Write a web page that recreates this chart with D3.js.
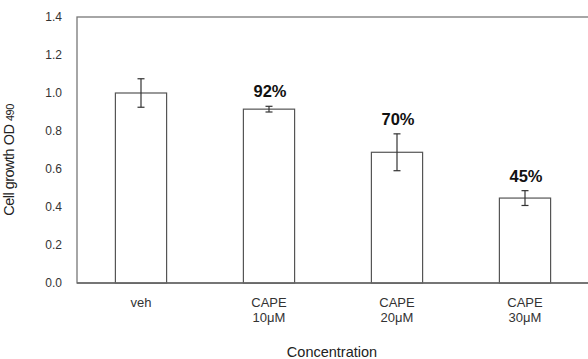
<!DOCTYPE html>
<html>
<head>
<meta charset="utf-8">
<script src="https://cdn.jsdelivr.net/npm/d3@7"></script>
<style>
  html, body { margin: 0; padding: 0; background: #fff; }
  svg { display: block; font-family: "Liberation Sans", Arial, sans-serif; }
</style>
</head>
<body>
<svg id="chart" width="588" height="359"></svg>
<script>
// Cell growth (OD 490) after CAPE treatment
const categories = ["veh", "CAPE\n10μM", "CAPE\n20μM", "CAPE\n30μM"];
const means = [1.0, 0.915, 0.688, 0.447];
const errors = [0.075, 0.015, 0.097, 0.039];
const percentLabels = ["", "92%", "70%", "45%"];
const yTicks = [0, 0.2, 0.4, 0.6, 0.8, 1.0, 1.2, 1.4];

const svg = d3.select("#chart");
const margin = { left: 77, top: 17, right: -1, bottom: 76 };
const W = 588, H = 359;
const plotRight = W - margin.right;
const plotBottom = H - margin.bottom;
const font = "'Liberation Sans', Arial, sans-serif";

const x = d3.scaleBand()
  .domain(categories)
  .range([margin.left, plotRight])
  .paddingInner(0.6)
  .paddingOuter(0.3);

const y = d3.scaleLinear().domain([0, 1.4]).range([plotBottom, margin.top]);

const textColor = "#333";

// plot frame
svg.append("rect")
  .attr("x", margin.left).attr("y", margin.top)
  .attr("width", plotRight - margin.left)
  .attr("height", plotBottom - margin.top)
  .attr("fill", "none").attr("stroke", "#777").attr("stroke-width", 1.3);

// y axis labels (no tick marks)
const yAxis = d3.axisLeft(y).tickValues(yTicks).tickFormat(d3.format(".1f")).tickSize(0).tickPadding(15);
const gy = svg.append("g").attr("transform", `translate(${margin.left},0)`).call(yAxis);
gy.select(".domain").remove();
gy.selectAll("text").attr("fill", textColor).style("font-size", "12px").style("font-family", font);

// bars
const bw = x.bandwidth();
svg.selectAll("rect.bar").data(categories).enter().append("rect")
  .attr("class", "bar")
  .attr("x", d => x(d))
  .attr("y", (d, i) => y(means[i]))
  .attr("width", bw)
  .attr("height", (d, i) => plotBottom - y(means[i]))
  .attr("fill", "#fff").attr("stroke", "#555").attr("stroke-width", 1.2);

// error bars
const eg = svg.append("g").attr("stroke", "#333").attr("stroke-width", 1.2);
categories.forEach((c, i) => {
  const cx = x(c) + bw / 2;
  const hi = y(means[i] + errors[i]), lo = y(means[i] - errors[i]);
  eg.append("line").attr("x1", cx).attr("x2", cx).attr("y1", hi).attr("y2", lo);
  eg.append("line").attr("x1", cx - 3.5).attr("x2", cx + 3.5).attr("y1", hi).attr("y2", hi);
  eg.append("line").attr("x1", cx - 3.5).attr("x2", cx + 3.5).attr("y1", lo).attr("y2", lo);
});

// baseline redrawn on top of the bars
svg.append("line")
  .attr("x1", margin.left).attr("x2", plotRight)
  .attr("y1", plotBottom).attr("y2", plotBottom)
  .attr("stroke", "#666").attr("stroke-width", 1.4);

// percentage labels above error bars
svg.selectAll("text.pct").data(categories).enter().append("text")
  .attr("class", "pct")
  .attr("x", d => x(d) + bw / 2 + 1)
  .attr("y", (d, i) => y(means[i] + errors[i]) - 9)
  .attr("text-anchor", "middle")
  .attr("fill", "#111")
  .style("font-size", "16.5px").style("font-weight", "bold")
  .text((d, i) => percentLabels[i]);

// x category labels (two lines)
categories.forEach(c => {
  const t = svg.append("text")
    .attr("x", x(c) + bw / 2)
    .attr("y", plotBottom + 24)
    .attr("text-anchor", "middle")
    .attr("fill", textColor)
    .style("font-size", "13px");
  c.split("\n").forEach((line, j) => {
    t.append("tspan").attr("x", x(c) + bw / 2).attr("dy", j === 0 ? 0 : 15).text(line);
  });
});

// axis titles
svg.append("text")
  .attr("x", 332).attr("y", 357)
  .attr("text-anchor", "middle")
  .attr("fill", "#222")
  .style("font-size", "14.5px")
  .text("Concentration");

const yt = svg.append("text")
  .attr("transform", "translate(14,160) rotate(-90)")
  .attr("text-anchor", "middle")
  .attr("fill", "#222")
  .style("font-size", "14.5px")
  .style("letter-spacing", "-0.5px");
yt.append("tspan").text("Cell growth OD ");
yt.append("tspan").style("font-size", "11px").text("490");
</script>
</body>
</html>
